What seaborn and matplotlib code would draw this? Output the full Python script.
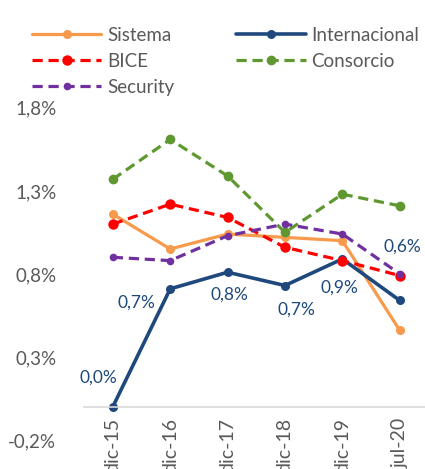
import numpy as np
import pandas as pd
import matplotlib
matplotlib.use('Agg')
import matplotlib.pyplot as plt
import seaborn as sns

# ______ DATA ______
periods = ['dic-15', 'dic-16', 'dic-17', 'dic-18', 'dic-19', 'jul-20']
sistema = [1.16, 0.95, 1.04, 1.02, 1.00, 0.46]
internacional = [0.00, 0.71, 0.81, 0.73, 0.89, 0.64]
bice = [1.10, 1.22, 1.14, 0.96, 0.88, 0.79]
consorcio = [1.37, 1.61, 1.39, 1.05, 1.28, 1.21]
security = [0.90, 0.88, 1.03, 1.10, 1.04, 0.80]
intl_labels = ['0,0%', '0,7%', '0,8%', '0,7%', '0,9%', '0,6%']

df = pd.DataFrame({'periodo': periods, 'idx': range(len(periods)),
                   'Sistema': sistema, 'Internacional': internacional,
                   'BICE': bice, 'Consorcio': consorcio, 'Security': security})

# ______ STYLE ______
sns.set_style('white')
plt.rcParams['font.family'] = ['Lato', 'DejaVu Sans']
grey = '#595959'
dash = (0, (3.2, 1.8))
styles = {
    'Sistema': dict(color='#F79A4C', linestyle='-', lw=2.3, ms=6.5),
    'Internacional': dict(color='#1F497D', linestyle='-', lw=2.6, ms=6.5),
    'BICE': dict(color='#FF0000', linestyle=dash, lw=2.3, ms=7.5),
    'Consorcio': dict(color='#5F9830', linestyle=dash, lw=2.3, ms=7),
    'Security': dict(color='#7030A0', linestyle=dash, lw=2.3, ms=5.5),
}

fig = plt.figure(figsize=(4.25, 4.69), dpi=100)
ax = fig.add_axes([0.198, 0.062, 0.802, 0.708])

handles = {}
for name in ['Sistema', 'Internacional', 'BICE', 'Consorcio', 'Security']:
    st = styles[name]
    sns.lineplot(data=df, x='idx', y=name, ax=ax, color=st['color'],
                 linestyle=st['linestyle'], linewidth=st['lw'],
                 marker='o', markersize=st['ms'], markeredgewidth=0,
                 label=name)
    handles[name] = ax.get_lines()[-1]

# data labels for Internacional
offsets = [(-14, 29), (-34, -14), (2, -22), (11, -24), (-3, -29), (3, 54)]
for i, (lab, off) in enumerate(zip(intl_labels, offsets)):
    ax.annotate(lab, (i, internacional[i]), xytext=off, textcoords='offset pixels',
                ha='center', va='center', fontsize=12.5, color='#1F497D')

ax.set_xlim(-0.5, 5.44)
ax.set_ylim(-0.2, 1.8)
ax.set_yticks([-0.2, 0.3, 0.8, 1.3, 1.8])
ax.set_yticklabels(['-0,2%', '0,3%', '0,8%', '1,3%', '1,8%'])
ax.set_xticks(range(len(periods)))
ax.set_xticklabels(periods)
ax.tick_params(axis='x', length=0, pad=8, labelrotation=90, labelsize=14, labelcolor=grey)
ax.tick_params(axis='y', length=0, pad=20, labelsize=13.5, labelcolor=grey)
ax.set_xlabel('')
ax.set_ylabel('')
for s in ['top', 'right', 'left']:
    ax.spines[s].set_visible(False)
ax.spines['bottom'].set_position(('data', 0))
ax.spines['bottom'].set_color('#D9D9D9')
ax.spines['bottom'].set_linewidth(1.2)
ax.grid(False)

order = ['Sistema', 'BICE', 'Security', 'Internacional', 'Consorcio']
ax.legend([handles[n] for n in order], order, ncol=2, frameon=False,
          loc='upper left', bbox_to_anchor=(0.075, 0.943), bbox_transform=fig.transFigure,
          borderpad=0, borderaxespad=0, handlelength=3.7, fontsize=13.5, labelcolor=grey,
          columnspacing=3.3, labelspacing=0.48, handletextpad=0.32)

plt.savefig('out.png', dpi=100)
plt.close()
